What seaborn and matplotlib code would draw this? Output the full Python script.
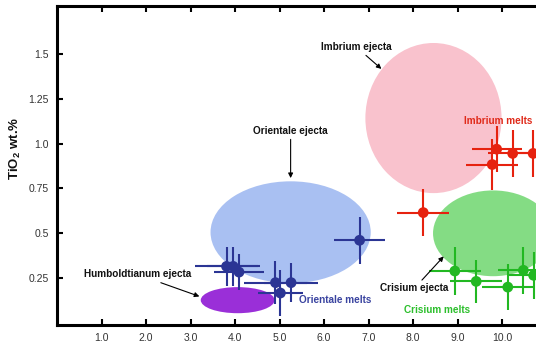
import matplotlib
matplotlib.use("Agg")
import matplotlib.pyplot as plt
from matplotlib.patches import Ellipse
import seaborn as sns
import pandas as pd

sns.set_theme(style="white")
plt.rcParams['font.family'] = ['Liberation Sans', 'DejaVu Sans']
plt.rcParams['mathtext.fontset'] = 'custom'
plt.rcParams['mathtext.bf'] = 'Liberation Sans:bold'
plt.rcParams['mathtext.rm'] = 'Liberation Sans'

# ---- data ----
ori_x = [3.81, 3.96, 4.09, 4.91, 5.26, 5.02, 6.80]
ori_y = [0.313, 0.313, 0.281, 0.222, 0.222, 0.164, 0.459]
ori_xerr = [0.70, 0.60, 0.56, 0.70, 0.60, 0.50, 0.58]
ori_yerr = [0.11, 0.11, 0.10, 0.12, 0.11, 0.13, 0.13]

imb_x = [9.88, 10.24, 10.70, 9.78, 8.23]
imb_y = [0.969, 0.945, 0.945, 0.883, 0.614]
imb_xerr = [0.56, 0.56, 0.56, 0.58, 0.58]
imb_yerr = [0.13, 0.13, 0.13, 0.14, 0.13]

cri_x = [8.94, 9.42, 10.13, 10.48, 10.71]
cri_y = [0.287, 0.229, 0.197, 0.291, 0.263]
cri_xerr = [0.59, 0.58, 0.58, 0.58, 0.58]
cri_yerr = [0.135, 0.12, 0.13, 0.13, 0.13]

ejecta_names = ["Orientale", "Humboldtianum", "Imbrium", "Crisium"]
ejecta_cx = [5.25, 4.06, 8.46, 9.80]
ejecta_cy = [0.504, 0.124, 1.143, 0.498]
ejecta_w = [3.6, 1.66, 3.06, 2.7]
ejecta_h = [0.57, 0.146, 0.84, 0.48]
ejecta_colors = ["#a9c0f2", "#9a2fd8", "#f9c2cd", "#6fd66f"]
ejecta_alpha = [1.0, 1.0, 1.0, 0.85]

x_ticks = [1, 2, 3, 4, 5, 6, 7, 8, 9, 10]
x_ticklabels = ["1.0", "2.0", "3.0", "4.0", "5.0", "6.0", "7.0", "8.0", "9.0", "10.0"]
y_ticks = [0.25, 0.5, 0.75, 1.0, 1.25, 1.5]
y_ticklabels = ["0.25", "0.5", "0.75", "1.0", "1.25", "1.5"]

fig = plt.figure(figsize=(5.36, 3.48), dpi=100)
ax = fig.add_axes([57 / 536, 23 / 348, 534 / 536, 319 / 348])
ax.set_xlim(0, 12)
ax.set_ylim(-0.015, 1.77)

for cx, cy, w, h, c, a in zip(ejecta_cx, ejecta_cy, ejecta_w, ejecta_h, ejecta_colors, ejecta_alpha):
    ax.add_patch(Ellipse((cx, cy), w, h, facecolor=c, edgecolor="none", alpha=a, zorder=1))

groups = [
    ("Orientale melts", ori_x, ori_y, ori_xerr, ori_yerr, "#2b3594"),
    ("Imbrium melts", imb_x, imb_y, imb_xerr, imb_yerr, "#e6220f"),
    ("Crisium melts", cri_x, cri_y, cri_xerr, cri_yerr, "#22b822"),
]
frames = []
for name, xs, ys, xe, ye, col in groups:
    ax.errorbar(xs, ys, xerr=xe, yerr=ye, fmt="none", ecolor=col, elinewidth=1.5,
                capsize=0, zorder=3)
    frames.append(pd.DataFrame({"x": xs, "y": ys, "group": name}))
df = pd.concat(frames, ignore_index=True)
palette = {g[0]: g[5] for g in groups}
sns.scatterplot(data=df, x="x", y="y", hue="group", palette=palette, s=60,
                edgecolor="none", legend=False, ax=ax, zorder=4)

fs = 7.2
arrow = dict(arrowstyle="-|>", color="black", lw=0.8, mutation_scale=7, shrinkA=0, shrinkB=0)
ax.annotate("Imbrium ejecta", xy=(7.29, 1.418), xytext=(6.73, 1.54), ha="center", va="center",
            fontsize=fs, fontweight="bold", color="#111111", arrowprops=arrow, zorder=5)
ax.annotate("Orientale ejecta", xy=(5.25, 0.807), xytext=(5.25, 1.07), ha="center", va="center",
            fontsize=fs, fontweight="bold", color="#111111", arrowprops=arrow, zorder=5)
ax.annotate("Humboldtianum ejecta", xy=(3.20, 0.145), xytext=(1.81, 0.268), ha="center", va="center",
            fontsize=fs, fontweight="bold", color="#111111", arrowprops=arrow, zorder=5)
ax.annotate("Crisium ejecta", xy=(8.69, 0.369), xytext=(8.03, 0.19), ha="center", va="center",
            fontsize=fs, fontweight="bold", color="#111111", arrowprops=arrow, zorder=5)
ax.text(6.26, 0.123, "Orientale melts", ha="center", va="center", fontsize=fs,
        fontweight="bold", color="#3a44a0", zorder=5)
ax.text(9.92, 1.126, "Imbrium melts", ha="center", va="center", fontsize=fs,
        fontweight="bold", color="#e02a1a", zorder=5)
ax.text(8.55, 0.067, "Crisium melts", ha="center", va="center", fontsize=fs,
        fontweight="bold", color="#2cbf2c", zorder=5)

ax.set_xticks(x_ticks)
ax.set_xticklabels(x_ticklabels)
ax.set_yticks(y_ticks)
ax.set_yticklabels(y_ticklabels)
ax.tick_params(axis="both", direction="in", length=4, width=1.5, color="black",
               labelsize=7.5, labelcolor="#333333", pad=6)
ax.tick_params(axis="x", top=True, labeltop=False, bottom=True)
ax.tick_params(axis="y", left=True, right=False)
ax.set_xlabel("")
ax.set_ylabel(r"TiO$_\mathbf{2}$ wt.%", fontsize=9.5, fontweight="bold", color="#111111")
ax.yaxis.set_label_coords(-0.064, 0.555)
for sp in ax.spines.values():
    sp.set_linewidth(2.2)
    sp.set_color("black")
ax.spines["right"].set_visible(False)

fig.savefig("out.png", dpi=100)
